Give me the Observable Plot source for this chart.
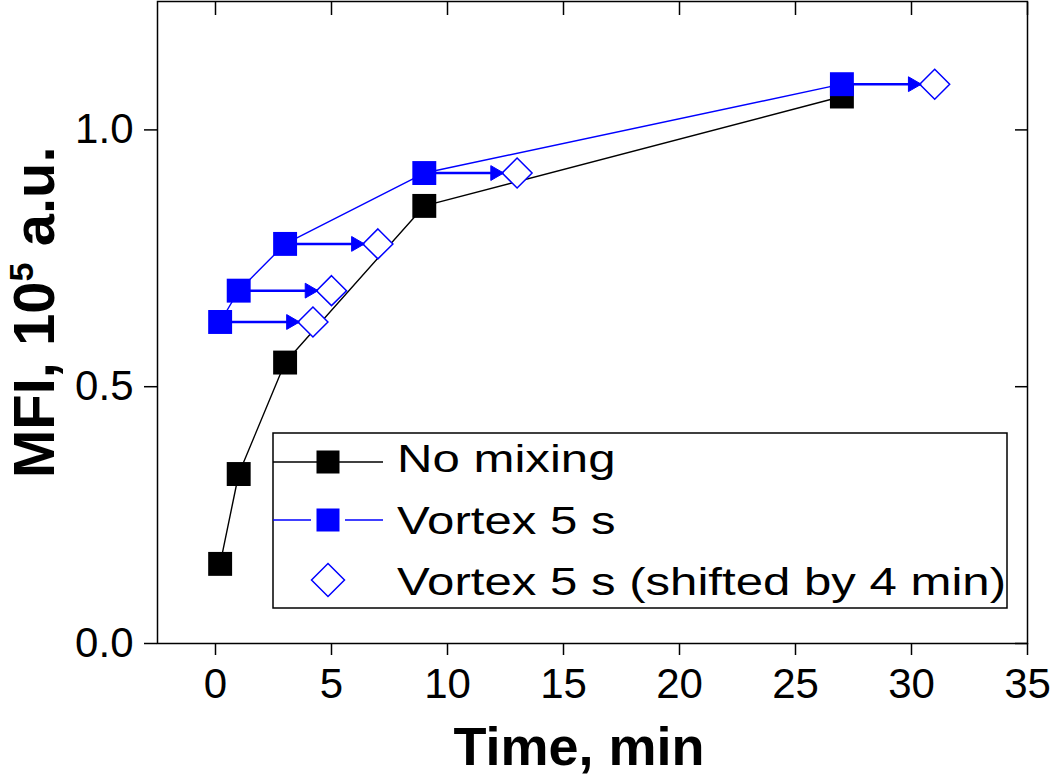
<!DOCTYPE html>
<html><head><meta charset="utf-8">
<script src="https://cdn.jsdelivr.net/npm/d3@7"></script>
<script src="https://cdn.jsdelivr.net/npm/@observablehq/plot@0.6"></script>
<style>
body{margin:0;background:#fff}
#chart{width:1050px;height:778px;position:relative}
</style>
</head><body><div id="chart"></div>
<script>
// ---- data ----
const times = [0.2, 1, 3, 9, 27];                       // min
const noMixing = [0.155, 0.33, 0.547, 0.852, 1.065];     // MFI, 1e5 a.u.
const vortex = [0.626, 0.687, 0.778, 0.916, 1.089];      // MFI, 1e5 a.u.
const shiftMin = 4;
const xTicks = [0, 5, 10, 15, 20, 25, 30, 35];
const yTicks = [0, 0.5, 1.0];
const seriesNames = ["No mixing", "Vortex 5 s", "Vortex 5 s (shifted by 4 min)"];
const xTitle = "Time, min";

const BLUE = "#0000ff";
const FONT = "'Liberation Sans', Arial, sans-serif";

const noMixRows = times.map((t, i) => ({t, v: noMixing[i]}));
const vortexRows = times.map((t, i) => ({t, v: vortex[i], ts: t + shiftMin}));

const plot = Plot.plot({
  width: 1050,
  height: 778,
  marginLeft: 157,
  marginRight: 23,
  marginTop: 1,
  marginBottom: 135,
  style: {fontFamily: FONT, background: "#fff", color: "#000"},
  x: {domain: [-2.5, 35], ticks: xTicks},
  y: {domain: [0, 1.25], ticks: yTicks},
  marks: [
    Plot.axisX({ticks: xTicks, tickSize: 12, tickPadding: 13, fontSize: 42, label: null, strokeWidth: 1.5}),
    Plot.axisX({anchor: "top", ticks: xTicks, tickSize: -13, text: null, label: null, strokeWidth: 1.5}),
    Plot.axisY({ticks: yTicks, tickSize: 13, tickPadding: 11, fontSize: 42, tickFormat: d3.format(".1f"), label: null, strokeWidth: 1.5}),
    Plot.axisY({anchor: "right", ticks: yTicks, tickSize: -13, text: null, label: null, strokeWidth: 1.5}),
    Plot.frame({stroke: "#000", strokeWidth: 1.5}),
    Plot.line(noMixRows, {x: "t", y: "v", stroke: "#000", strokeWidth: 1.4}),
    Plot.line(vortexRows, {x: "t", y: "v", stroke: BLUE, strokeWidth: 1.4}),
    Plot.link(vortexRows, {x1: "t", x2: "ts", y1: "v", y2: "v", stroke: BLUE, strokeWidth: 2.5}),
    Plot.dot(vortexRows, {x: "ts", y: "v", symbol: "diamond2", r: 13.5, fill: "#fff", stroke: BLUE, strokeWidth: 1.5}),
    Plot.dot(vortexRows, {x: "ts", y: "v", symbol: "triangle", rotate: 90, r: 5.5, dx: -22, fill: BLUE, stroke: BLUE, strokeWidth: 1}),
    Plot.dot(noMixRows, {x: "t", y: "v", symbol: "square", r: 13.5, fill: "#000"}),
    Plot.dot(vortexRows, {x: "t", y: "v", symbol: "square", r: 13.5, fill: BLUE})
  ]
});
document.getElementById("chart").appendChild(plot);

const svg = d3.select(plot);

// axis titles
svg.append("text")
  .attr("x", 579).attr("y", 765)
  .attr("text-anchor", "middle")
  .attr("font-family", FONT).attr("font-size", 54).attr("font-weight", "bold")
  .attr("fill", "#000")
  .text(xTitle);

const yt = svg.append("text")
  .attr("transform", "translate(54,478) rotate(-90)")
  .attr("text-anchor", "start")
  .attr("font-family", FONT).attr("font-size", 58).attr("font-weight", "bold")
  .attr("fill", "#000");
yt.append("tspan").text("MFI, 10");
yt.append("tspan").attr("font-size", 34).attr("dy", -21).text("5");
yt.append("tspan").attr("dy", 21).text(" a.u.");

// legend
const lg = svg.append("g").attr("font-family", FONT).attr("font-size", 39).attr("text-anchor", "start");
lg.append("rect").attr("x", 273).attr("y", 433).attr("width", 734).attr("height", 175)
  .attr("fill", "#fff").attr("stroke", "#000").attr("stroke-width", 1.5);
const rows = [462, 520, 580];
const baselines = [472, 534, 595];
// row 1
lg.append("line").attr("x1", 273).attr("x2", 383).attr("y1", rows[0]).attr("y2", rows[0]).attr("stroke", "#000").attr("stroke-width", 1.3);
lg.append("rect").attr("x", 328 - 11.5).attr("y", rows[0] - 11.5).attr("width", 23).attr("height", 23).attr("fill", "#000");
// row 2
lg.append("line").attr("x1", 273).attr("x2", 311).attr("y1", rows[1]).attr("y2", rows[1]).attr("stroke", BLUE).attr("stroke-width", 1.3);
lg.append("line").attr("x1", 345).attr("x2", 383).attr("y1", rows[1]).attr("y2", rows[1]).attr("stroke", BLUE).attr("stroke-width", 1.3);
lg.append("rect").attr("x", 328 - 11.5).attr("y", rows[1] - 11.5).attr("width", 23).attr("height", 23).attr("fill", BLUE);
// row 3
lg.append("path").attr("d", `M328,${rows[2]-16.5}L344.5,${rows[2]}L328,${rows[2]+16.5}L311.5,${rows[2]}Z`)
  .attr("fill", "#fff").attr("stroke", BLUE).attr("stroke-width", 1.5);
seriesNames.forEach((name, i) => {
  lg.append("text")
    .attr("transform", `translate(397,${baselines[i]}) scale(1.26,1)`)
    .attr("text-anchor", "start").attr("fill", "#000").text(name);
});
</script>
</body></html>
